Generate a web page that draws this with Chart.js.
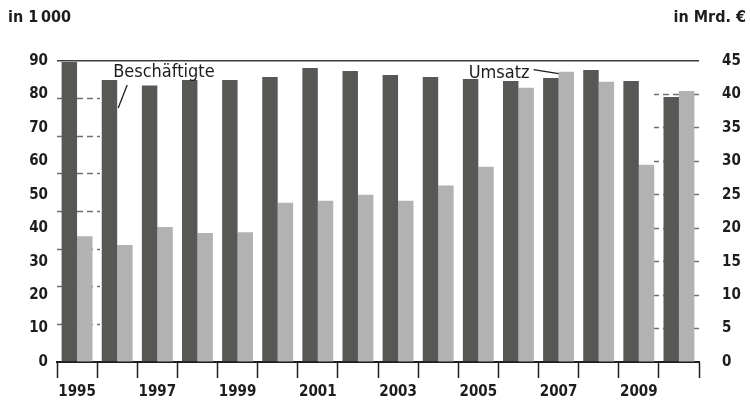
<!DOCTYPE html>
<html lang="de">
<head>
<meta charset="utf-8">
<script src="https://cdn.jsdelivr.net/npm/chart.js@4/dist/chart.umd.min.js"></script>
<style>
  body { margin: 0; background: #fff; }
  #wrap { position: relative; width: 750px; height: 405px; }
  .unit { position: absolute; top: 7px; font: bold 16px 'DejaVu Sans Condensed', sans-serif; color: #1d1d1b; }
</style>
</head>
<body>
<div id="wrap">
  <canvas id="chart" width="750" height="405"></canvas>
  <div class="unit" style="left:8px">in 1&#8239;000</div>
  <div class="unit" style="right:4px">in Mrd. €</div>
</div>
<script>
const years = ['1995', '1996', '1997', '1998', '1999', '2000', '2001', '2002', '2003', '2004', '2005', '2006', '2007', '2008', '2009', '2010'];
const shownYears = ['1995', '1997', '1999', '2001', '2003', '2005', '2007', '2009'];
const beschaeftigte = [89.7, 84.3, 82.7, 84.3, 84.3, 85.2, 87.9, 87.0, 85.8, 85.2, 84.6, 84.0, 84.9, 87.3, 84.0, 79.2];
const umsatz = [18.8, 17.5, 20.2, 19.3, 19.4, 23.8, 24.1, 25.0, 24.1, 26.4, 29.2, 41.0, 43.4, 41.9, 29.5, 40.5];
const leftTicks = [0, 10, 20, 30, 40, 50, 60, 70, 80, 90];
const leftGuides = [11.25, 22.5, 33.75, 45, 56.25, 67.5, 78.75];
const rightTicks = [0, 5, 10, 15, 20, 25, 30, 35, 40, 45];

const textColor = '#1d1d1b';
const guideColor = '#6f6f6e';
const tickFont = { family: "'DejaVu Sans Condensed', sans-serif", size: 15, weight: 'bold' };

const annotations = {
  id: 'annotations',
  afterDatasetsDraw(chart) {
    const { ctx } = chart;
    const dark = chart.getDatasetMeta(0).data[1];
    const light = chart.getDatasetMeta(1).data[12];
    ctx.save();
    ctx.fillStyle = textColor;
    ctx.strokeStyle = textColor;
    ctx.lineWidth = 1.3;
    ctx.font = "18px 'DejaVu Sans Condensed', sans-serif";
    ctx.textBaseline = 'alphabetic';

    const dRight = dark.x + dark.width / 2;
    ctx.textAlign = 'left';
    ctx.fillText('Beschäftigte', dRight - 4, dark.y - 3);
    ctx.beginPath();
    ctx.moveTo(dRight + 10, dark.y + 5);
    ctx.lineTo(dRight + 1, dark.y + 28);
    ctx.stroke();

    const lLeft = light.x - light.width / 2;
    ctx.textAlign = 'right';
    ctx.fillText('Umsatz', lLeft - 29, light.y + 6);
    ctx.beginPath();
    ctx.moveTo(lLeft - 25, light.y - 2);
    ctx.lineTo(lLeft, light.y + 2);
    ctx.stroke();
    ctx.restore();
  },
};

// tick padding on vertical axes also pads the chart top/bottom, so reset it
const flatPadding = (s) => { s.paddingTop = 8; s.paddingBottom = 8; };

new Chart(document.getElementById('chart'), {
  type: 'bar',
  data: {
    labels: years,
    datasets: [
      {
        label: 'Beschäftigte',
        data: beschaeftigte,
        yAxisID: 'y',
        backgroundColor: '#575756',
        categoryPercentage: 0.77,
        barPercentage: 1,
      },
      {
        label: 'Umsatz',
        data: umsatz,
        yAxisID: 'y2',
        backgroundColor: '#b2b2b2',
        categoryPercentage: 0.77,
        barPercentage: 1,
      },
    ],
  },
  options: {
    responsive: false,
    animation: false,
    layout: { padding: { top: 61, right: 0, bottom: 0, left: 0 } },
    plugins: {
      legend: { display: false },
      tooltip: { enabled: false },
    },
    scales: {
      x: {
        offset: true,
        grid: { drawOnChartArea: false, offset: true, tickLength: 16, tickColor: textColor, tickWidth: 1.5 },
        border: { display: true, color: textColor, width: 2 },
        ticks: {
          autoSkip: false,
          maxRotation: 0,
          padding: 5,
          color: textColor,
          font: tickFont,
          callback: (val, i) => (shownYears.includes(years[i]) ? years[i] : ''),
        },
        afterFit: (s) => { s.height = 43; },
      },
      y: {
        position: 'left',
        weight: 1,
        min: 0,
        max: 90,
        afterBuildTicks: (s) => { s.ticks = leftTicks.map((v) => ({ value: v })); },
        grid: {
          drawTicks: false,
          lineWidth: 1.5,
          color: (c) => (c.tick && c.tick.value === 90 ? '#3c3c3b' : 'rgba(0,0,0,0)'),
        },
        border: { display: false },
        ticks: { padding: 9, color: textColor, font: tickFont },
        afterFit: (s) => { s.width = 57; flatPadding(s); },
      },
      yg: {
        position: 'left',
        weight: 0,
        min: 0,
        max: 90,
        afterBuildTicks: (s) => { s.ticks = leftGuides.map((v) => ({ value: v })); },
        ticks: { display: false },
        grid: {
          drawOnChartArea: false,
          tickLength: -43,
          tickColor: guideColor,
          tickWidth: 1.4,
          tickBorderDash: [6, 4],
          tickBorderDashOffset: 3,
        },
        border: { display: false },
        afterFit: (s) => { s.width = 0; flatPadding(s); },
      },
      y2: {
        position: 'right',
        min: 0,
        max: 45,
        afterBuildTicks: (s) => { s.ticks = rightTicks.map((v) => ({ value: v })); },
        grid: {
          drawOnChartArea: false,
          tickLength: -45,
          tickColor: (c) => (c.tick && (c.tick.value === 0 || c.tick.value === 45) ? 'rgba(0,0,0,0)' : guideColor),
          tickWidth: 1.4,
          tickBorderDash: [6, 4],
        },
        border: { display: false },
        ticks: { padding: 68, color: textColor, font: tickFont },
        afterFit: (s) => { s.width = 51; flatPadding(s); },
      },
    },
  },
  plugins: [annotations],
});
</script>
</body>
</html>
